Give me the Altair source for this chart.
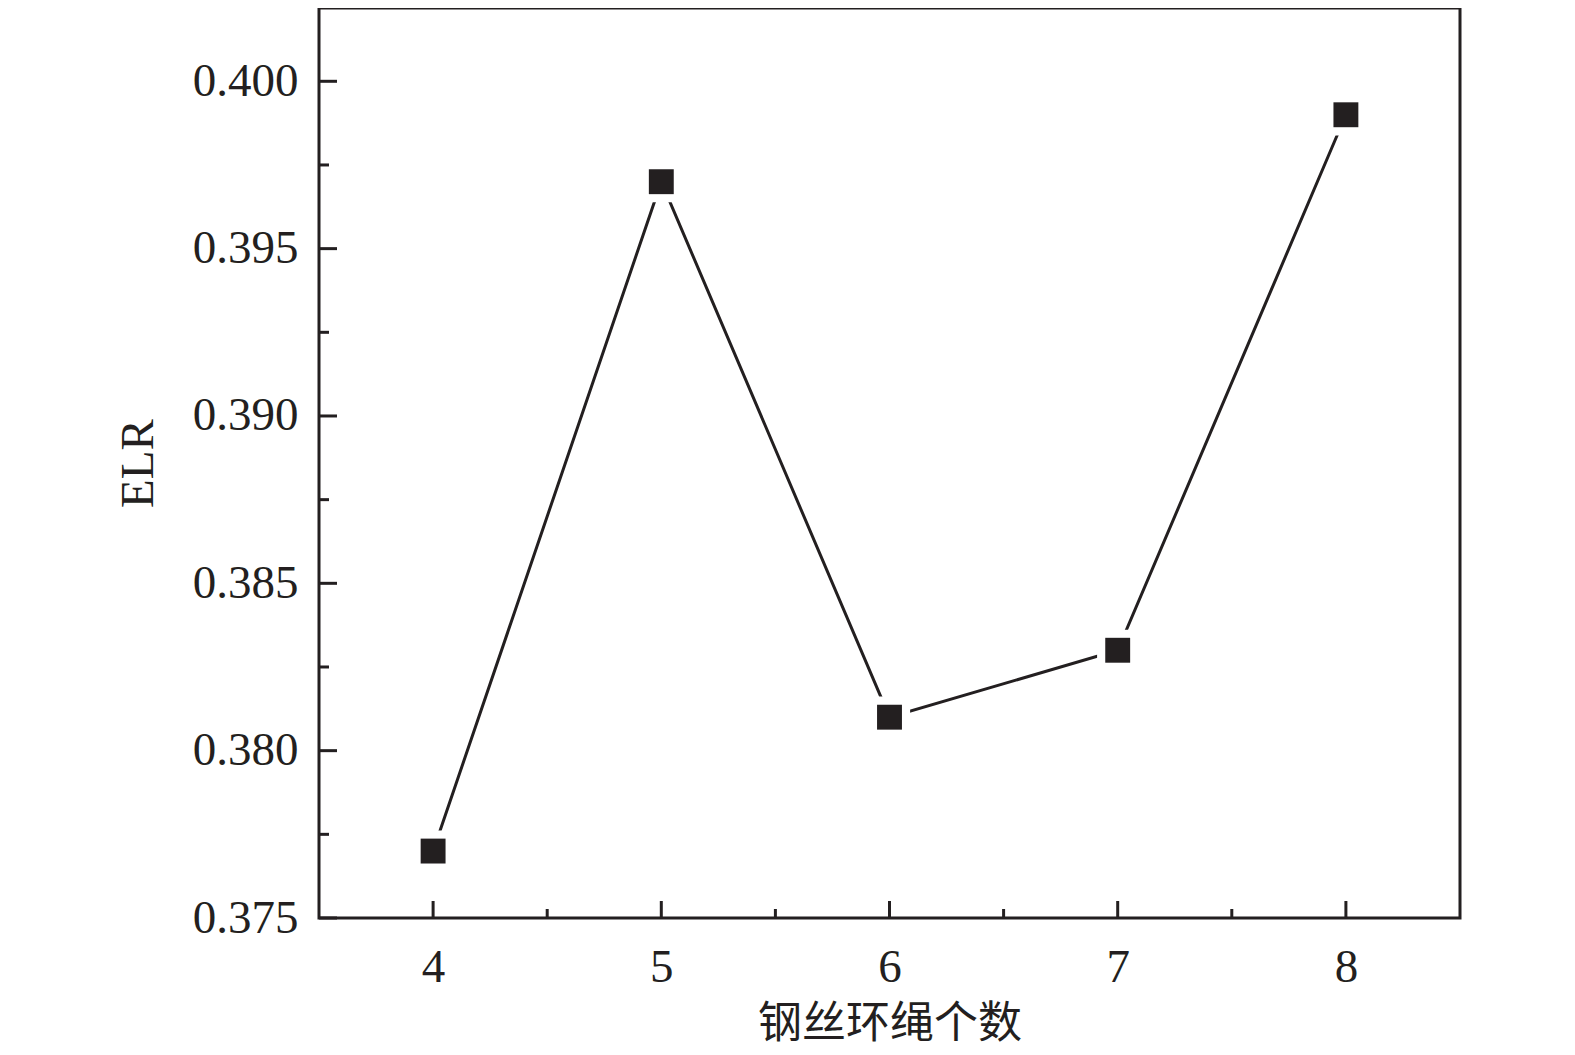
import altair as alt
import pandas as pd

# data
counts = [4, 5, 6, 7, 8]
elr = [0.377, 0.397, 0.381, 0.383, 0.399]
y_major = [0.375, 0.380, 0.385, 0.390, 0.395, 0.400]
y_minor = [0.3775, 0.3825, 0.3875, 0.3925, 0.3975]
x_major = [4, 5, 6, 7, 8]
x_minor = [4.5, 5.5, 6.5, 7.5]

FONT = "Liberation Serif, Times New Roman, Noto Sans CJK SC"
INK = "#231f20"
W, H = 1141, 910

df = pd.DataFrame({"n": counts, "elr": elr})
xs = alt.Scale(domain=[3.5, 8.5], nice=False, zero=False)
ys = alt.Scale(domain=[0.375, 0.40219], nice=False, zero=False)

xaxis = alt.Axis(values=x_major, format="d", ticks=False, domain=False, grid=False,
                 labelFont=FONT, labelFontSize=47, labelColor=INK, labelPadding=26,
                 title="钢丝环绳个数", titleFont="Noto Sans CJK SC, " + FONT,
                 titleFontSize=44, titleFontWeight="normal", titleColor=INK, titlePadding=12)
yaxis = alt.Axis(values=y_major, format=".3f", ticks=False, domain=False, grid=False,
                 labelFont=FONT, labelFontSize=47, labelColor=INK, labelPadding=21,
                 title="ELR", titleFont=FONT, titleFontSize=47,
                 titleFontWeight="normal", titleColor=INK, titlePadding=30)

base = alt.Chart(df)
line = base.mark_line(color=INK, strokeWidth=3).encode(
    x=alt.X("n:Q", scale=xs, axis=xaxis),
    y=alt.Y("elr:Q", scale=ys, axis=yaxis),
)
halo = base.mark_point(shape="square", filled=True, color="white", size=1700, opacity=1).encode(
    x=alt.X("n:Q", scale=xs), y=alt.Y("elr:Q", scale=ys))
pts = base.mark_point(shape="square", filled=True, color=INK, size=620, opacity=1).encode(
    x=alt.X("n:Q", scale=xs), y=alt.Y("elr:Q", scale=ys))

ymaj = alt.Chart(pd.DataFrame({"v": y_major})).mark_rule(color=INK, strokeWidth=3).encode(
    y=alt.Y("v:Q", scale=ys), x=alt.value(0), x2=alt.value(18))
ymin = alt.Chart(pd.DataFrame({"v": y_minor})).mark_rule(color=INK, strokeWidth=3).encode(
    y=alt.Y("v:Q", scale=ys), x=alt.value(0), x2=alt.value(10))
xmaj = alt.Chart(pd.DataFrame({"v": x_major})).mark_rule(color=INK, strokeWidth=3).encode(
    x=alt.X("v:Q", scale=xs), y=alt.value(H), y2=alt.value(H - 17))
xmin = alt.Chart(pd.DataFrame({"v": x_minor})).mark_rule(color=INK, strokeWidth=3).encode(
    x=alt.X("v:Q", scale=xs), y=alt.value(H), y2=alt.value(H - 9))

chart = alt.layer(ymaj, ymin, xmaj, xmin, line, halo, pts).properties(
    width=W, height=H,
    autosize=alt.AutoSizeParams(type="none"),
    padding={"left": 311, "top": 0, "right": 100, "bottom": 134},
    background="white",
).configure_view(stroke=INK, strokeWidth=3)

chart.save("out.html", embed_options={"renderer": "svg", "actions": False})
